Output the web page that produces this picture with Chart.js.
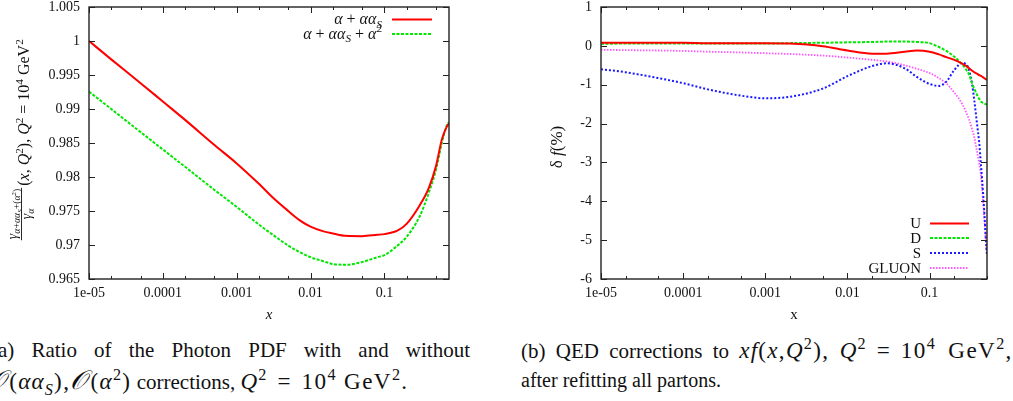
<!DOCTYPE html>
<html>
<head>
<meta charset="utf-8">
<script src="https://cdn.jsdelivr.net/npm/chart.js@4.4.1/dist/chart.umd.min.js"></script>
<style>
  html, body { margin: 0; padding: 0; background: #fff; }
  body { width: 1013px; height: 401px; position: relative; overflow: hidden; font-family: "Liberation Serif", serif; color: #111; }
  .box { position: absolute; top: 0; height: 325px; }
  #leftBox { left: 0; width: 460px; }
  #rightBox { left: 505px; width: 500px; }
  .cap { position: absolute; font-size: 21px; line-height: 21px; white-space: nowrap; }
  .just { text-align: justify; text-align-last: justify; white-space: normal; }
  .cap sup, .cap sub { font-size: 0.7em; line-height: 0; }
  .cap i { letter-spacing: 0.05em; }
  .mth { font-size: 1.1em; letter-spacing: 0.06em; }
  .cal { font-style: italic; font-size: 1.15em; letter-spacing: 0.12em; }
  .eq { margin: 0 0.42em; }
</style>
</head>
<body>
<div class="box" id="leftBox"><canvas id="left" width="460" height="325"></canvas></div>
<div class="box" id="rightBox"><canvas id="right" width="500" height="325"></canvas></div>

<div class="cap just" style="left:-9px; top:340px; width:479px;">(a) Ratio of the Photon PDF with and without</div>
<div class="cap" style="left:-11px; top:370px;"><span class="mth"><span class="cal">𝒪</span>(<i>αα<sub>S</sub></i>),<span class="cal">𝒪</span>(<i>α</i><sup>2</sup>)</span> corrections, <span class="mth"><i>Q</i><sup>2</sup><span class="eq">=</span>10<sup>4</sup> GeV<sup>2</sup>.</span></div>
<div class="cap" style="left:521px; top:340px; word-spacing:5px;">(b) QED corrections to <span class="mth"><i>xf</i>(<i>x</i>,<i>Q</i><sup>2</sup>),</span> <span class="mth"><i>Q</i><sup>2</sup><span class="eq">=</span>10<sup>4</sup> GeV<sup>2</sup>,</span></div>
<div class="cap" style="left:521px; top:370px; font-size:20px;">after refitting all partons.</div>

<script>
// ---- data ----
const xLeft = [1e-5, 2e-5, 5e-5, 1e-4, 2e-4, 5e-4, 1e-3, 2e-3, 3e-3, 5e-3, 7e-3, 0.01, 0.015, 0.02, 0.03, 0.05, 0.08, 0.1, 0.15, 0.2, 0.3, 0.4, 0.5, 0.6, 0.7, 0.75];
const ratioAlphaS = [1.0, 0.9973, 0.9938, 0.9911, 0.9884, 0.9847, 0.9820, 0.9790, 0.9771, 0.9750, 0.9737, 0.9727, 0.9720, 0.9717, 0.97135, 0.9713, 0.9715, 0.9716, 0.9721, 0.9731, 0.9758, 0.9784, 0.9816, 0.9855, 0.9874, 0.9879];
const ratioAlphaS2 = [0.99256, 0.9900, 0.9866, 0.98405, 0.9815, 0.9781, 0.9756, 0.9730, 0.9716, 0.9699, 0.9690, 0.9682, 0.9676, 0.9672, 0.9671, 0.9675, 0.9682, 0.9685, 0.9699, 0.9712, 0.9742, 0.9777, 0.9811, 0.9850, 0.9876, 0.9881];

const xRight = [1e-5, 2e-5, 5e-5, 1e-4, 2e-4, 5e-4, 1e-3, 2e-3, 5e-3, 0.01, 0.02, 0.03, 0.05, 0.07, 0.1, 0.13, 0.16, 0.2, 0.25, 0.28, 0.3, 0.33, 0.35, 0.38, 0.4, 0.42, 0.45, 0.47, 0.485, 0.5];
const deltaU = [0.08, 0.08, 0.08, 0.08, 0.07, 0.07, 0.07, 0.06, -0.01, -0.12, -0.2, -0.2, -0.15, -0.12, -0.15, -0.22, -0.29, -0.36, -0.46, -0.52, -0.57, -0.64, -0.68, -0.72, -0.75, -0.77, -0.81, -0.84, -0.86, -0.88];
const deltaD = [0.05, 0.06, 0.06, 0.06, 0.06, 0.06, 0.06, 0.07, 0.08, 0.09, 0.1, 0.11, 0.11, 0.1, 0.07, -0.03, -0.13, -0.28, -0.48, -0.62, -0.72, -0.97, -1.1, -1.27, -1.36, -1.43, -1.47, -1.49, -1.5, -1.52];
const deltaS = [-0.6, -0.68, -0.83, -0.96, -1.12, -1.28, -1.35, -1.31, -1.1, -0.78, -0.52, -0.45, -0.58, -0.8, -0.98, -1.03, -0.92, -0.62, -0.44, -0.48, -0.6, -1.0, -1.4, -2.05, -2.45, -3.0, -3.85, -4.5, -5.0, -5.4];
const deltaG = [-0.1, -0.11, -0.12, -0.13, -0.15, -0.17, -0.19, -0.21, -0.25, -0.3, -0.36, -0.4, -0.5, -0.59, -0.7, -0.83, -0.97, -1.2, -1.5, -1.72, -1.88, -2.15, -2.35, -2.75, -3.0, -3.3, -4.05, -4.6, -5.05, -5.35];

const xTickValues = [1e-5, 1e-4, 1e-3, 1e-2, 1e-1];
const xTickLabels = ['1e-05', '0.0001', '0.001', '0.01', '0.1'];
const xMinorFactors = [2, 5];
const yTicksLeft = [0.965, 0.97, 0.975, 0.98, 0.985, 0.99, 0.995, 1, 1.005];
const yTicksRight = [-6, -5, -4, -3, -2, -1, 0, 1];

const FONT = '"Liberation Serif", "Times New Roman", serif';
const INK = '#111';

// ---- little math-text helper: _x / ^x / _{..} / ^{..} ----
function parseRuns(str, math, depth = 0, off = 0, out = []) {
  let i = 0;
  while (i < str.length) {
    const c = str[i];
    if ((c === '_' || c === '^') && i + 1 < str.length) {
      let body, j = i + 1;
      if (str[j] === '{') {
        let lvl = 0, k = j;
        for (; k < str.length; k++) {
          if (str[k] === '{') lvl++;
          else if (str[k] === '}' && --lvl === 0) break;
        }
        body = str.slice(j + 1, k);
        i = k + 1;
      } else {
        body = str[j];
        i = j + 1;
      }
      const sc = Math.pow(0.7, depth);
      parseRuns(body, math, depth + 1, off + (c === '_' ? 0.22 : -0.4) * sc, out);
      continue;
    }
    out.push({ t: c, depth, off, it: math && /[A-Za-zα-ω]/.test(c) });
    i++;
  }
  return out;
}
function runFont(r, size) {
  return (r.it ? 'italic ' : '') + (size * Math.pow(0.7, r.depth)).toFixed(2) + 'px ' + FONT;
}
function runsWidth(ctx, runs, size) {
  let w = 0;
  for (const r of runs) { ctx.font = runFont(r, size); w += ctx.measureText(r.t).width; }
  return w;
}
function drawRuns(ctx, runs, x, y, size, align) {
  const w = runsWidth(ctx, runs, size);
  let cx = align === 'right' ? x - w : align === 'center' ? x - w / 2 : x;
  ctx.textAlign = 'left';
  ctx.textBaseline = 'alphabetic';
  for (const r of runs) {
    ctx.font = runFont(r, size);
    ctx.fillText(r.t, cx, y + r.off * size);
    cx += ctx.measureText(r.t).width;
  }
  return w;
}

function logTicks(min, max) {
  const ticks = [];
  xTickValues.forEach(v => {
    if (v >= min * 0.999 && v <= max * 1.001) ticks.push({ value: v, major: true });
    xMinorFactors.forEach(f => {
      const m = v * f;
      if (m > min && m <= max * 1.001) ticks.push({ value: m, major: false });
    });
  });
  return ticks.sort((a, b) => a.value - b.value);
}

// gnuplot-ish frame, inward ticks on all 4 sides, key and y title
const gnuplotLook = {
  id: 'gnu',
  afterDatasetsDraw(chart, args, opts) {
    const { ctx, chartArea: a, scales } = chart;
    ctx.save();
    ctx.strokeStyle = '#222';
    ctx.lineWidth = 1;
    ctx.beginPath();
    scales.x.ticks.forEach(t => {
      const px = Math.round(scales.x.getPixelForValue(t.value)) + 0.5;
      const len = t.major ? 6 : 3;
      ctx.moveTo(px, a.bottom); ctx.lineTo(px, a.bottom - len);
      ctx.moveTo(px, a.top); ctx.lineTo(px, a.top + len);
    });
    scales.y.ticks.forEach(t => {
      const py = Math.round(scales.y.getPixelForValue(t.value)) + 0.5;
      ctx.moveTo(a.left, py); ctx.lineTo(a.left + 6, py);
      ctx.moveTo(a.right, py); ctx.lineTo(a.right - 6, py);
    });
    ctx.stroke();
    ctx.lineWidth = 1.4;
    ctx.strokeRect(a.left, a.top, a.right - a.left, a.bottom - a.top);

    // key
    const key = opts.key;
    ctx.fillStyle = INK;
    chart.data.datasets.forEach((ds, i) => {
      const y = key.rows[i];
      drawRuns(ctx, parseRuns(ds.label, key.math), key.textRight, y + 5, key.size, 'right');
      ctx.save();
      ctx.strokeStyle = ds.borderColor;
      ctx.lineWidth = ds.borderWidth;
      ctx.setLineDash(ds.borderDash || []);
      ctx.beginPath();
      ctx.moveTo(key.x0, y + 0.5);
      ctx.lineTo(key.x1, y + 0.5);
      ctx.stroke();
      ctx.restore();
    });

    if (opts.yTitle) opts.yTitle(ctx);
    ctx.restore();
  }
};

function xScale(max, title, italic) {
  return {
    type: 'logarithmic',
    min: 1e-5,
    max: max,
    afterBuildTicks: s => { s.ticks = logTicks(s.min, s.max); },
    afterFit: s => { s.height = 46; s.paddingLeft = 0; s.paddingRight = 0; },
    grid: { display: false, drawTicks: false },
    border: { display: false },
    ticks: {
      autoSkip: false, maxRotation: 0, padding: 6, color: INK,
      font: { family: FONT, size: 14 },
      callback: (v, i, t) => t[i].major ? xTickLabels[xTickValues.findIndex(m => Math.abs(m - t[i].value) / m < 1e-6)] : ''
    },
    title: { display: true, text: title, color: INK, font: { family: FONT, size: 15, style: italic ? 'italic' : 'normal' }, padding: { top: 0, bottom: 1 } }
  };
}
function yScale(min, max, values, width) {
  return {
    type: 'linear',
    min: min,
    max: max,
    afterBuildTicks: s => { s.ticks = values.map(v => ({ value: v })); },
    afterFit: s => { s.width = width; s.paddingTop = 0; s.paddingBottom = 0; },
    grid: { display: false, drawTicks: false },
    border: { display: false },
    ticks: { padding: 9, color: INK, font: { family: FONT, size: 14 }, callback: v => String(v) }
  };
}
function series(label, xs, ys, color, width, dash) {
  return {
    label: label,
    data: xs.map((x, i) => ({ x: x, y: ys[i] })),
    borderColor: color,
    borderWidth: width,
    borderDash: dash,
    pointRadius: 0,
    fill: false,
    cubicInterpolationMode: 'monotone'
  };
}

// rotated y label of the left panel: gamma ratio fraction + (x,Q^2), Q^2 = 10^4 GeV^2
function drawRatioTitle(ctx) {
  ctx.save();
  ctx.fillStyle = INK;
  ctx.rotate(-Math.PI / 2);
  const mid = -214;
  const num = parseRuns('γ_{α+αα_S+(α^2)}', true);
  const den = parseRuns('γ_α', true);
  const wn = runsWidth(ctx, num, 14);
  drawRuns(ctx, num, mid, 17, 14, 'center');
  drawRuns(ctx, den, mid, 31, 14, 'center');
  ctx.strokeStyle = INK;
  ctx.lineWidth = 0.9;
  ctx.beginPath();
  ctx.moveTo(mid - wn / 2 - 1, 21.5);
  ctx.lineTo(mid + wn / 2 + 1, 21.5);
  ctx.stroke();
  const main = parseRuns('(x, Q^2), Q^2 = 10^4', true).concat(parseRuns(' GeV^2', false));
  drawRuns(ctx, main, mid + wn / 2 + 3, 29, 16, 'left');
  ctx.restore();
}
function drawDeltaTitle(ctx) {
  ctx.save();
  ctx.fillStyle = INK;
  ctx.translate(57, 147);
  ctx.rotate(-Math.PI / 2);
  const runs = parseRuns('δ ', false).concat(parseRuns('f', true), parseRuns('(%)', false));
  drawRuns(ctx, runs, 0, 0, 17, 'center');
  ctx.restore();
}

new Chart(document.getElementById('left'), {
  type: 'line',
  data: {
    datasets: [
      series('α + αα_S', xLeft, ratioAlphaS, '#ff0000', 2, []),
      series('α + αα_S + α^2', xLeft, ratioAlphaS2, '#00e800', 2, [3, 1.5])
    ]
  },
  options: {
    responsive: false,
    animation: false,
    layout: { padding: { top: 7, right: 11, bottom: 0, left: 0 } },
    plugins: {
      legend: { display: false },
      tooltip: { enabled: false },
      gnu: { key: { textRight: 382, x0: 392, x1: 432, rows: [19, 33.5], size: 16, math: true }, yTitle: drawRatioTitle }
    },
    scales: { x: xScale(0.75, 'x', true), y: yScale(0.965, 1.005, yTicksLeft, 89) }
  },
  plugins: [gnuplotLook]
});

new Chart(document.getElementById('right'), {
  type: 'line',
  data: {
    datasets: [
      series('U', xRight, deltaU, '#ff0000', 2, []),
      series('D', xRight, deltaD, '#00e800', 2, [3, 1.5]),
      series('S', xRight, deltaS, '#1a1aff', 2, [2, 2]),
      series('GLUON', xRight, deltaG, '#ff55ff', 1.8, [1.5, 1.5])
    ]
  },
  options: {
    responsive: false,
    animation: false,
    layout: { padding: { top: 7, right: 18, bottom: 0, left: 0 } },
    plugins: {
      legend: { display: false },
      tooltip: { enabled: false },
      gnu: { key: { textRight: 416, x0: 425, x1: 464, rows: [223, 237.5, 252.5, 267.5], size: 15, math: false }, yTitle: drawDeltaTitle }
    },
    scales: { x: xScale(0.5, 'x', false), y: yScale(-6, 1, yTicksRight, 96) }
  },
  plugins: [gnuplotLook]
});
</script>
</body>
</html>
